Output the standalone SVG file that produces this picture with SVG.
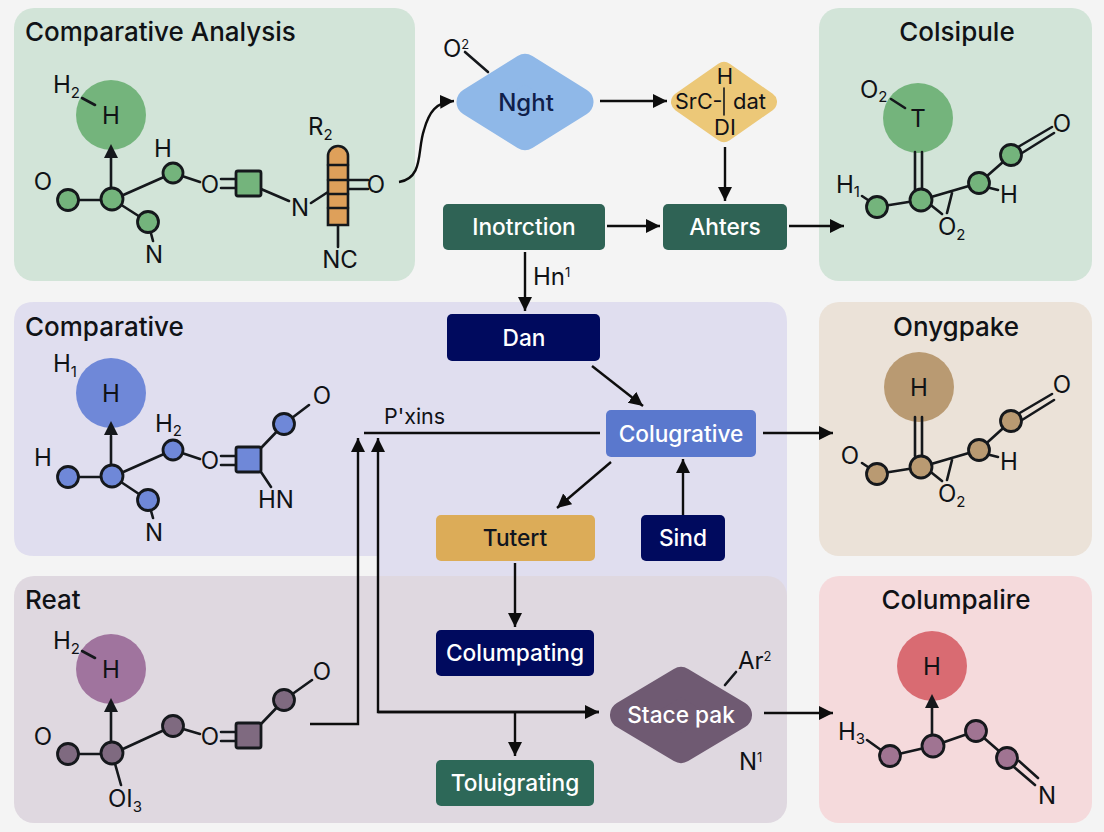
<svg xmlns="http://www.w3.org/2000/svg" width="1104" height="832" viewBox="0 0 1104 832">
<style>
text{font-family:Inter,"Noto Sans","Liberation Sans",sans-serif;fill:#101216}
.title{font-size:26px;font-weight:500}
.lab{font-size:24px;text-anchor:middle}
.lab2{font-size:24px}
.sub{font-size:15px}
.sup{font-size:13px}
.box{font-size:22.7px;font-weight:500;text-anchor:middle;fill:#fff}
.b{stroke:#15181c;stroke-width:2.6;fill:none;stroke-linecap:round;stroke-linejoin:round}
.n{stroke:#15181c;stroke-width:2.8}
.g{fill:#74b47c}.bl{fill:#6f88d8}.p{fill:#7f6a80}.t{fill:#b99a72}.pk{fill:#a07492}
.c{stroke:#0d0d0d;stroke-width:2.4;fill:none}
.a{marker-end:url(#ah)}
</style>
<defs>
<marker id="ah" markerUnits="userSpaceOnUse" markerWidth="15" markerHeight="15" refX="14" refY="7" orient="auto"><path d="M0,0L14,7L0,14Z" fill="#0d0d0d"/></marker>
</defs>
<rect width="1104" height="832" fill="#f4f4f4"/>

<g id="panel-comparative-analysis">
<rect x="14" y="8" width="401" height="273" rx="20" fill="#d2e4d8"/>
<text class="title" x="25" y="41">Comparative Analysis</text>
<circle cx="111" cy="115" r="35" class="g"/>
<text class="lab" x="111" y="124">H</text>
<text class="lab2" x="53" y="93">H<tspan class="sub" dy="5">2</tspan></text>
<path class="b" d="M82,98L95,105M68,200H112L173,173M112,199L148,222L153,241M173,173L200,182M221,179H236M221,188H236M261,189L289,201M311,203L328,192M348,180H368M348,189H368M338,225V247"/>
<path class="b" d="M111,199V158"/>
<path d="M104,158L111,144L118,158Z" fill="#15181c"/>
<circle class="n g" cx="68" cy="200" r="10.5"/><circle class="n g" cx="112" cy="199" r="11"/><circle class="n g" cx="173" cy="173" r="10"/><circle class="n g" cx="148" cy="222" r="10.5"/>
<rect class="n g" x="236" y="171" width="25" height="25" rx="2"/>
<path d="M328,156a10,10 0 0 1 20,0V225H328Z" fill="#dea05a" stroke="#15181c" stroke-width="2.6"/>
<path class="b" d="M328,165H348M328,180H348M328,194H348M328,208H348"/>
<text class="lab" x="43" y="190">O</text><text class="lab" x="163" y="157">H</text><text class="lab" x="210" y="193">O</text><text class="lab" x="154" y="263">N</text><text class="lab" x="300" y="216">N</text><text class="lab" x="376" y="193">O</text><text class="lab" x="340" y="268">NC</text>
<text class="lab2" x="308" y="135">R<tspan class="sub" dy="5">2</tspan></text>
</g>

<g id="panel-colsipule">
<rect x="819" y="8" width="273" height="273" rx="20" fill="#d2e4d8"/>
<text class="title" x="957" y="41" text-anchor="middle">Colsipule</text>
<circle cx="918" cy="118" r="35" class="g"/>
<text class="lab" x="918" y="127">T</text>
<text class="lab2" x="860" y="98">O<tspan class="sub" dy="4">2</tspan></text>
<path class="b" d="M891,99L905,108M915,152V190M922,152V190M877,207L921,200L979,183L1011,155M952,193L947,213M932,206L942,214M862,196L868,200M990,188L998,190M1018,147L1052,127M1022,153L1054,133"/>
<circle class="n g" cx="877" cy="207" r="10.5"/><circle class="n g" cx="921" cy="200" r="11"/><circle class="n g" cx="979" cy="183" r="10.5"/><circle class="n g" cx="1011" cy="155" r="10.5"/>
<text class="lab2" x="836" y="193">H<tspan class="sub" dy="4">1</tspan></text>
<text class="lab2" x="938" y="235">O<tspan class="sub" dy="5">2</tspan></text>
<text class="lab" x="1009" y="203">H</text><text class="lab" x="1062" y="132">O</text>
</g>

<g id="panel-comparative">
<path d="M34,302H767Q787,302 787,322V600H377V556H34Q14,556 14,536V322Q14,302 34,302Z" fill="#e0deef"/>
<text class="title" x="25" y="336">Comparative</text>
<circle cx="111" cy="393" r="35" class="bl"/>
<text class="lab" x="111" y="402">H</text>
<text class="lab2" x="53" y="372">H<tspan class="sub" dy="5">1</tspan></text>
<path class="b" d="M68,477H112L173,450M112,476L148,500L153,518M173,450L200,459M221,456H236M221,465H236M261,448L284,424L309,405M261,472L271,487"/>
<path class="b" d="M111,476V436"/>
<path d="M104,435L111,421L118,435Z" fill="#15181c"/>
<circle class="n bl" cx="68" cy="477" r="10.5"/><circle class="n bl" cx="112" cy="476" r="11"/><circle class="n bl" cx="173" cy="450" r="10"/><circle class="n bl" cx="148" cy="500" r="10.5"/><circle class="n bl" cx="284" cy="424" r="10.5"/>
<rect class="n bl" x="236" y="447" width="25" height="25" rx="2"/>
<text class="lab" x="43" y="466">H</text><text class="lab" x="210" y="469">O</text><text class="lab" x="154" y="541">N</text><text class="lab" x="322" y="404">O</text><text class="lab" x="276" y="508">HN</text>
<text class="lab2" x="155" y="432">H<tspan class="sub" dy="4">2</tspan></text>
</g>

<g id="panel-onygpake">
<rect x="819" y="302" width="273" height="254" rx="20" fill="#ebe2d8"/>
<text class="title" x="956" y="336" text-anchor="middle">Onygpake</text>
<circle cx="919" cy="387" r="35" class="t"/>
<text class="lab" x="919" y="396">H</text>
<path class="b" d="M915,417V456M922,417V456M877,474L921,467L979,450L1011,421M952,460L947,480M932,473L942,481M862,463L868,467M990,455L998,457M1018,414L1052,394M1022,420L1054,400"/>
<circle class="n t" cx="877" cy="474" r="10.5"/><circle class="n t" cx="921" cy="467" r="11"/><circle class="n t" cx="979" cy="450" r="10.5"/><circle class="n t" cx="1011" cy="421" r="10.5"/>
<text class="lab" x="850" y="464">O</text>
<text class="lab2" x="938" y="502">O<tspan class="sub" dy="5">2</tspan></text>
<text class="lab" x="1009" y="470">H</text><text class="lab" x="1062" y="393">O</text>
</g>

<g id="panel-reat">
<rect x="14" y="576" width="773" height="247" rx="20" fill="#dfd8e0"/>
<text class="title" x="25" y="609">Reat</text>
<circle cx="111" cy="669" r="35" fill="#a0749e"/>
<text class="lab" x="111" y="678">H</text>
<text class="lab2" x="53" y="649">H<tspan class="sub" dy="5">2</tspan></text>
<path class="b" d="M82,651L95,658M68,754H112L173,726M112,753L121,785M173,726L200,734M221,732H236M221,741H236M261,724L284,700L312,680"/>
<path class="b" d="M111,753V712"/>
<path d="M104,712L111,698L118,712Z" fill="#15181c"/>
<circle class="n p" cx="68" cy="754" r="10.5"/><circle class="n p" cx="112" cy="753" r="11"/><circle class="n p" cx="173" cy="726" r="10.5"/><circle class="n p" cx="284" cy="700" r="10.5"/>
<rect class="n p" x="236" y="723" width="25" height="25" rx="2"/>
<text class="lab" x="43" y="745">O</text><text class="lab" x="210" y="745">O</text><text class="lab" x="322" y="680">O</text>
<text class="lab2" x="108" y="807">OI<tspan class="sub" dy="5">3</tspan></text>
</g>

<g id="panel-columpalire">
<rect x="819" y="576" width="273" height="247" rx="20" fill="#f5dadc"/>
<text class="title" x="956" y="609" text-anchor="middle">Columpalire</text>
<circle cx="932" cy="666" r="35" fill="#d96b72"/>
<text class="lab" x="932" y="675">H</text>
<path class="b" d="M867,740L881,750M890,756L933,746L976,731L1007,758M1014,767L1035,785M1019,761L1038,778"/>
<path class="b" d="M932,746V708"/>
<path d="M925,708L932,694L939,708Z" fill="#15181c"/>
<circle class="n pk" cx="890" cy="756" r="10.5"/><circle class="n pk" cx="933" cy="746" r="11"/><circle class="n pk" cx="976" cy="731" r="10.5"/><circle class="n pk" cx="1007" cy="758" r="10.5"/>
<text class="lab2" x="838" y="740">H<tspan class="sub" dy="4">3</tspan></text>
<text class="lab" x="1047" y="804">N</text>
</g>

<g id="node-nght">
<polygon points="470.5,102 525,68 579.5,102 525,136" fill="#8fb8e8" stroke="#8fb8e8" stroke-width="28" stroke-linejoin="round"/>
<text class="lab" x="526" y="111" style="fill:#10204a;font-weight:500">Nght</text>
<text class="lab2" x="443" y="57">O<tspan class="sup" dy="-8">2</tspan></text>
<path class="b" d="M465,52L488,72"/>
</g>
<g id="node-srcdat">
<polygon points="681,102 724,72 767,102 724,132" fill="#ecc878" stroke="#ecc878" stroke-width="20" stroke-linejoin="round"/>
<path class="b" style="stroke-width:1.6" d="M724,88V115"/>
<text class="lab" x="725" y="84" style="font-size:22px">H</text>
<text class="lab2" x="675" y="109" style="font-size:21.5px">SrC-</text>
<text class="lab2" x="733" y="109" style="font-size:22px">dat</text>
<text class="lab" x="725" y="135" style="font-size:22px">DI</text>
</g>
<g id="node-inotrction"><rect x="443" y="204" width="162" height="46" rx="5" fill="#2f6355"/><text class="box" x="524" y="235">Inotrction</text></g>
<g id="node-ahters"><rect x="663" y="204" width="124" height="46" rx="5" fill="#2f6355"/><text class="box" x="725" y="235">Ahters</text></g>
<g id="node-dan"><rect x="447" y="314" width="153" height="47" rx="5" fill="#000a5e"/><text class="box" x="524" y="346">Dan</text></g>
<g id="node-colugrative"><rect x="606" y="410" width="150" height="47" rx="5" fill="#5a78cd"/><text class="box" x="681" y="442">Colugrative</text></g>
<g id="node-tutert"><rect x="436" y="515" width="159" height="46" rx="5" fill="#dcac58"/><text class="box" x="515" y="546" style="fill:#10151f">Tutert</text></g>
<g id="node-sind"><rect x="641" y="515" width="84" height="46" rx="5" fill="#000a5e"/><text class="box" x="683" y="546">Sind</text></g>
<g id="node-columpating"><rect x="436" y="630" width="158" height="46" rx="5" fill="#000a5e"/><text class="box" x="515" y="661">Columpating</text></g>
<g id="node-toluigrating"><rect x="436" y="760" width="158" height="46" rx="5" fill="#2d6858"/><text class="box" x="515" y="791">Toluigrating</text></g>
<g id="node-stacepak">
<polygon points="624,715 681,681 738,715 681,749" fill="#6f5a72" stroke="#6f5a72" stroke-width="28" stroke-linejoin="round"/>
<text class="box" x="681" y="723">Stace pak</text>
<text class="lab2" x="738" y="669">Ar<tspan class="sup" dy="-8">2</tspan></text>
<text class="lab2" x="739" y="770">N<tspan class="sup" dy="-8">1</tspan></text>
<path class="b" d="M725,685L736,672"/>
</g>

<g id="connectors">
<path class="c a" d="M399,182C424,178 417,150 424,130C429,112 436,102 454,101"/>
<path class="c a" d="M600,101H667"/>
<path class="c a" d="M725,147V201"/>
<path class="c a" d="M607,226H660"/>
<path class="c a" d="M789,226H844"/>
<path class="c a" d="M525,252V311"/>
<path class="c a" d="M592,366L643,406"/>
<path class="c" d="M364,433H600"/>
<path class="c a" d="M763,433H833"/>
<path class="c a" d="M310,724H358V438"/>
<path class="c a" d="M599,712H378V438"/>
<path class="c a" d="M378,712H599"/>
<path class="c a" d="M611,462L557,508"/>
<path class="c a" d="M683,515V459"/>
<path class="c a" d="M515,563V627"/>
<path class="c a" d="M515,712V756"/>
<path class="c a" d="M764,713H833"/>
<text class="lab2" x="533" y="285">Hn<tspan class="sup" dy="-8">1</tspan></text>
<text class="lab2" x="384" y="424" style="font-size:21.5px">P'xins</text>
</g>
</svg>
